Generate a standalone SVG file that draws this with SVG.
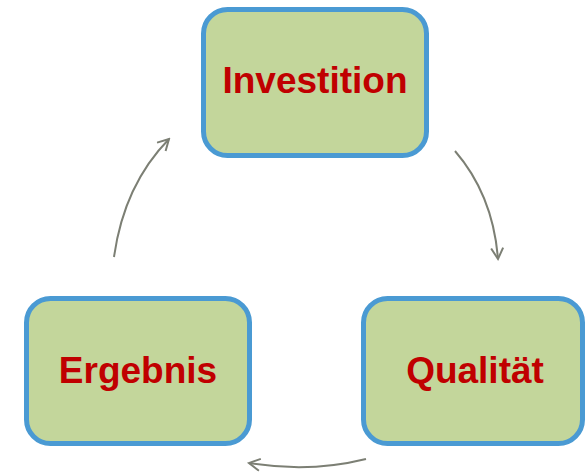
<svg xmlns="http://www.w3.org/2000/svg" width="585" height="474" viewBox="0 0 585 474">
<style>
.box{fill:#c3d69b;stroke:#4a9ad3;stroke-width:5}
.lbl{font-family:"Liberation Sans",Arial,sans-serif;font-weight:bold;font-size:37px;fill:#c00000;text-anchor:middle}
.arr{fill:none;stroke:#7c7f74;stroke-width:2;marker-end:url(#ah)}
</style>
<defs>
<marker id="ah" viewBox="0 0 14 14" refX="12" refY="7" markerWidth="14" markerHeight="14" markerUnits="userSpaceOnUse" orient="auto">
<path d="M1,1 L12,7 L1,13" fill="none" stroke="#7c7f74" stroke-width="2"/>
</marker>
</defs>
<rect width="585" height="474" fill="#fff"/>
<g id="investition">
<rect class="box" x="203.5" y="9.5" width="223" height="146" rx="24"/>
<text class="lbl" x="315" y="93">Investition</text>
</g>
<g id="qualitaet">
<rect class="box" x="363.5" y="298.5" width="219" height="145" rx="24"/>
<text class="lbl" x="475" y="383">Qualität</text>
</g>
<g id="ergebnis">
<rect class="box" x="26.5" y="298.5" width="223" height="145" rx="24"/>
<text class="lbl" x="138" y="383">Ergebnis</text>
</g>
<g id="connectors">
<path class="arr" d="M114,257 Q124,185 169,139"/>
<path class="arr" d="M455,151 Q493,195 498,259"/>
<path class="arr" d="M366,459 Q310,473 249,463"/>
</g>
</svg>
